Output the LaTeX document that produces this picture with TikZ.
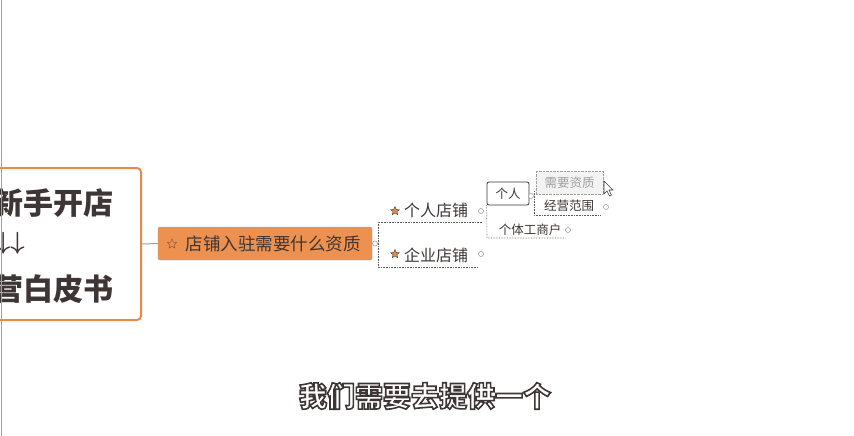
\documentclass[tikz,border=0pt]{standalone}
\usepackage{fontspec}
\newfontfamily\cjk{Noto Sans CJK SC}
\usepackage{tikz}
\usetikzlibrary{positioning, shapes.geometric}
\definecolor{mapInk}{HTML}{3E3535}
\definecolor{mapOrange}{HTML}{EC914F}
\definecolor{mapBorder}{HTML}{E8894A}
\definecolor{mapMuted}{HTML}{A0A0A0}
\definecolor{mapLine}{HTML}{5A5A5A}
\definecolor{mapPale}{HTML}{F3F3F3}
% texto con contorno (relleno blanco, trazo oscuro)
\newcommand{\outlined}[1]{\special{pdf:literal direct 2 Tr 1.6 w 0.243 0.208 0.208 RG}#1\special{pdf:literal direct 0 Tr}}

\tikzset{
  rootbox/.style={draw=mapBorder, line width=2pt, rounded corners=4pt, fill=white,
    minimum width=161pt, minimum height=152pt},
  roottext/.style={anchor=east, inner sep=0pt, text=mapInk,
    font=\cjk\bfseries\fontsize{30}{30}\selectfont},
  topicbox/.style={draw=mapMuted, fill=mapOrange, rounded corners=2pt, minimum width=214pt,
    minimum height=33pt, inner sep=0pt, text=mapInk, font=\cjk\fontsize{17.5}{18}\selectfont},
  subtopic/.style={inner sep=0pt, text=mapInk, font=\cjk\fontsize{16}{16}\selectfont},
  leaftopic/.style={inner sep=0pt, text=mapInk, font=\cjk\fontsize{12.5}{13}\selectfont},
  leafbox/.style={leaftopic, draw=mapInk, fill=white, rounded corners=2pt, line width=0.8pt,
    minimum width=42pt, minimum height=23pt},
  ghostbox/.style={leaftopic, draw=mapMuted, densely dotted, fill=mapPale, text=mapMuted,
    minimum width=67pt, minimum height=23pt},
  knob/.style={circle, draw=mapMuted, fill=white, line width=0.6pt, minimum size=5pt, inner sep=0pt},
  staricon/.style={star, star points=5, star point ratio=2.2, draw=mapInk, fill=mapBorder,
    line width=0.4pt, minimum size=9pt, inner sep=0pt},
  link/.style={draw=mapLine, line width=0.6pt, densely dotted},
}

\begin{document}
\begin{tikzpicture}[x=1pt, y=-1pt, font=\cjk]
  \useasboundingbox (0,0) rectangle (854,436);
  % tema central (cortado a la izquierda)
  \node[rootbox] (root) at (60.5,244) {};
  \node[roottext] (rootA) at (114,203) {新手开店};
  \node[roottext, font=\fontsize{32}{32}\selectfont\boldmath] (rootB) at (25,243)
    {$\downarrow\downarrow$};
  \node[roottext] (rootC) at (114,289) {营白皮书};
  \draw[color=mapMuted, line width=1pt] (1.5,0) -- (1.5,436);

  % tema principal
  \node[topicbox] (topic) at (265,243.5) {\hspace*{16pt}店铺入驻需要什么资质};
  \node[star, star points=5, star point ratio=2.2, draw=mapBorder!60!black, line width=0.4pt,
    minimum size=10pt, inner sep=0pt] (topicIcon) at (172,244) {};
  \node[knob, right=0pt of topic] (k0) {};
  \draw[color=mapMuted, line width=1pt] (root.east) -- (topic.west);

  % tronco y subtemas
  \coordinate (trunk) at (378,243);
  \coordinate (upA) at (378,222);
  \coordinate (upAend) at (482,222);
  \coordinate (downA) at (378,267);
  \coordinate (downAend) at (478,267);
  \draw[link] (k0) -- (trunk);
  \draw[link] (upAend) -- (upA) -- (downA) -- (downAend);

  \node[staricon] (starA) at (395,211) {};
  \node[subtopic, anchor=west] (geren) at (404,210) {个人店铺};
  \node[knob] (k1) at (481,211) {};
  \node[staricon] (starB) at (395,254) {};
  \node[subtopic, anchor=west] (qiye) at (404,255) {企业店铺};
  \node[knob] (k2) at (481,254) {};

  % hojas de "个人店铺"
  \node[leafbox] (person) at (508,193.5) {个人};
  \node[leaftopic] (getihu) at (530,230) {个体工商户};
  \node[knob] (k3) at (568,230) {};
  \coordinate (underC) at (487,238);
  \coordinate (underCend) at (566,238);
  \draw[link] (person.south west) -- (underC) -- (underCend);

  \node[knob] (k4) at (531,196) {};
  \node[ghostbox] (need) at (569.5,182.5) {需要资质};
  \node[leaftopic] (scope) at (569,206) {经营范围};
  \node[knob] (k5) at (606,207) {};
  \coordinate (trunkC) at (534,191);
  \coordinate (underD) at (534,215);
  \coordinate (underDend) at (600,215);
  \draw[link] (trunkC) -- (underD) -- (underDend);

  % puntero del raton
  \draw[fill=white, draw=mapInk, line width=0.6pt] (604,181) -- (604,194) -- (607,191)
    -- (609.5,196) -- (611.5,195) -- (609,190) -- (613,190) -- cycle;

  % subtitulo
  \node[font=\cjk\bfseries\fontsize{28}{28}\selectfont, text=white] (caption) at (425,396)
    {\outlined{我们需要去提供一个}};
\end{tikzpicture}
\end{document}
